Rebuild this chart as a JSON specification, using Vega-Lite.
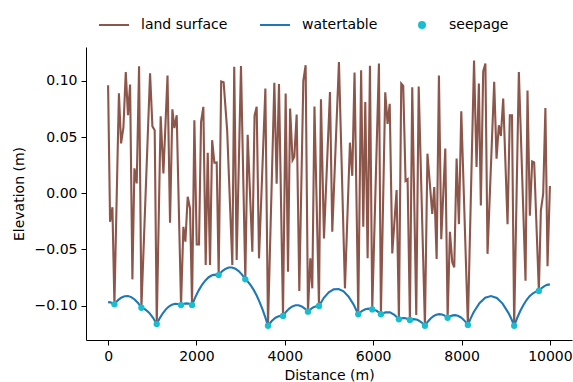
{
  "$schema": "https://vega.github.io/schema/vega-lite/v6.json",
  "width": 486,
  "height": 293,
  "autosize": {"type": "none"},
  "padding": {"left": 86, "top": 47, "right": 1, "bottom": 42},
  "background": "white",
  "config": {
    "view": {"stroke": null},
    "font": "DejaVu Sans",
    "axis": {
      "domainColor": "#000", "domainWidth": 1, "tickColor": "#000", "tickWidth": 1, "tickSize": 5,
      "labelColor": "#000", "labelFont": "DejaVu Sans", "labelFontSize": 14, "labelPadding": 4,
      "titleFont": "DejaVu Sans", "titleFontSize": 14, "titleFontWeight": "normal", "titleColor": "#000",
      "grid": false
    }
  },
  "datasets": {
    "land": [
      {"x": 0, "y": 0.0962}, {"x": 45, "y": -0.0254}, {"x": 98, "y": -0.0125}, {"x": 143, "y": -0.0989},
      {"x": 245, "y": 0.0890}, {"x": 294, "y": 0.0443}, {"x": 347, "y": 0.0585}, {"x": 400, "y": 0.1080},
      {"x": 450, "y": 0.0695}, {"x": 498, "y": 0.0968}, {"x": 550, "y": -0.0767}, {"x": 596, "y": 0.0222},
      {"x": 648, "y": 0.0087}, {"x": 701, "y": 0.1131}, {"x": 754, "y": -0.1020}, {"x": 950, "y": 0.1068},
      {"x": 1003, "y": 0.0595}, {"x": 1055, "y": 0.0561}, {"x": 1101, "y": -0.1165}, {"x": 1190, "y": 0.0685},
      {"x": 1252, "y": 0.0176}, {"x": 1345, "y": 0.1047}, {"x": 1402, "y": -0.0263}, {"x": 1455, "y": 0.0747},
      {"x": 1500, "y": 0.0580}, {"x": 1553, "y": 0.0695}, {"x": 1651, "y": -0.0996}, {"x": 1704, "y": -0.0299},
      {"x": 1749, "y": -0.0432}, {"x": 1802, "y": -0.0032}, {"x": 1855, "y": -0.0136}, {"x": 1900, "y": -0.0996},
      {"x": 1953, "y": 0.0650}, {"x": 2006, "y": -0.0456}, {"x": 2058, "y": -0.0456}, {"x": 2104, "y": 0.0636},
      {"x": 2156, "y": 0.0769}, {"x": 2209, "y": -0.0640}, {"x": 2255, "y": 0.0360}, {"x": 2307, "y": -0.0640},
      {"x": 2355, "y": 0.0472}, {"x": 2405, "y": 0.0272}, {"x": 2458, "y": 0.0275}, {"x": 2503, "y": -0.0729},
      {"x": 2560, "y": 0.0995}, {"x": 2615, "y": 0.0988}, {"x": 2695, "y": 0.0560}, {"x": 2812, "y": -0.0640},
      {"x": 2855, "y": 0.1125}, {"x": 2910, "y": -0.0595}, {"x": 3008, "y": 0.1132}, {"x": 3106, "y": -0.0767},
      {"x": 3159, "y": 0.0520}, {"x": 3265, "y": -0.0521}, {"x": 3315, "y": 0.0690}, {"x": 3363, "y": 0.0769},
      {"x": 3416, "y": -0.0580}, {"x": 3560, "y": 0.0932}, {"x": 3619, "y": -0.1180}, {"x": 3763, "y": 0.0984},
      {"x": 3815, "y": 0.0084}, {"x": 3868, "y": 0.0972}, {"x": 3959, "y": -0.1093}, {"x": 4019, "y": 0.0888},
      {"x": 4072, "y": -0.0699}, {"x": 4120, "y": 0.0754}, {"x": 4175, "y": 0.0294}, {"x": 4215, "y": 0.0324},
      {"x": 4268, "y": 0.0700}, {"x": 4328, "y": -0.0871}, {"x": 4419, "y": 0.1000}, {"x": 4471, "y": 0.1140},
      {"x": 4524, "y": -0.1055}, {"x": 4577, "y": -0.0580}, {"x": 4622, "y": -0.0847}, {"x": 4671, "y": 0.0772},
      {"x": 4773, "y": -0.1004}, {"x": 4818, "y": 0.0836}, {"x": 4886, "y": -0.0402}, {"x": 5022, "y": 0.0902},
      {"x": 5074, "y": -0.0343}, {"x": 5225, "y": 0.1169}, {"x": 5361, "y": -0.0847}, {"x": 5474, "y": 0.0450},
      {"x": 5527, "y": 0.0155}, {"x": 5578, "y": 0.1074}, {"x": 5662, "y": -0.1078}, {"x": 5727, "y": 0.1095},
      {"x": 5776, "y": -0.0299}, {"x": 5821, "y": 0.0813}, {"x": 5874, "y": -0.0580}, {"x": 5927, "y": 0.1134},
      {"x": 5979, "y": -0.1035}, {"x": 6130, "y": 0.1155}, {"x": 6175, "y": -0.1078}, {"x": 6273, "y": 0.0899},
      {"x": 6326, "y": 0.0617}, {"x": 6374, "y": 0.0796}, {"x": 6432, "y": -0.0536}, {"x": 6530, "y": 0.0028},
      {"x": 6582, "y": -0.1123}, {"x": 6635, "y": 0.0977}, {"x": 6680, "y": 0.0956}, {"x": 6733, "y": 0.0110},
      {"x": 6779, "y": 0.0125}, {"x": 6831, "y": -0.1129}, {"x": 6884, "y": 0.0944}, {"x": 6975, "y": -0.1085},
      {"x": 7030, "y": 0.0950}, {"x": 7171, "y": -0.1180}, {"x": 7228, "y": 0.0352}, {"x": 7337, "y": -0.0185},
      {"x": 7383, "y": 0.0055}, {"x": 7436, "y": -0.0585}, {"x": 7488, "y": 0.1048}, {"x": 7541, "y": -0.0410},
      {"x": 7632, "y": 0.0398}, {"x": 7685, "y": -0.1109}, {"x": 7737, "y": -0.0343}, {"x": 7790, "y": -0.0615},
      {"x": 7835, "y": -0.0660}, {"x": 7888, "y": 0.0308}, {"x": 7941, "y": -0.0275}, {"x": 7994, "y": 0.0730},
      {"x": 8143, "y": -0.1173}, {"x": 8283, "y": 0.1182}, {"x": 8339, "y": 0.0233}, {"x": 8392, "y": 0.0976},
      {"x": 8437, "y": -0.0110}, {"x": 8490, "y": 0.1085}, {"x": 8540, "y": 0.1155}, {"x": 8588, "y": -0.0540},
      {"x": 8739, "y": 0.0992}, {"x": 8792, "y": 0.0308}, {"x": 8844, "y": 0.0605}, {"x": 8890, "y": 0.0510},
      {"x": 8943, "y": 0.0842}, {"x": 9041, "y": -0.0275}, {"x": 9093, "y": 0.0693}, {"x": 9142, "y": 0.0693},
      {"x": 9191, "y": -0.1180}, {"x": 9297, "y": 0.1080}, {"x": 9448, "y": -0.0780}, {"x": 9493, "y": 0.0915},
      {"x": 9546, "y": -0.0200}, {"x": 9599, "y": 0.0284}, {"x": 9644, "y": 0.0275}, {"x": 9750, "y": -0.0871},
      {"x": 9795, "y": -0.0155}, {"x": 9848, "y": -0.0005}, {"x": 9898, "y": 0.0758}, {"x": 9946, "y": -0.0650},
      {"x": 10000, "y": 0.0064}
    ],
    "wt": [
      {"x": 0, "y": -0.0970}, {"x": 50, "y": -0.0972}, {"x": 100, "y": -0.0980}, {"x": 143, "y": -0.0989},
      {"x": 219, "y": -0.0954}, {"x": 296, "y": -0.0930}, {"x": 372, "y": -0.0918}, {"x": 449, "y": -0.0916},
      {"x": 525, "y": -0.0925}, {"x": 601, "y": -0.0946}, {"x": 678, "y": -0.0977}, {"x": 754, "y": -0.1020},
      {"x": 841, "y": -0.1035}, {"x": 928, "y": -0.1064}, {"x": 1014, "y": -0.1107}, {"x": 1101, "y": -0.1165},
      {"x": 1170, "y": -0.1112}, {"x": 1239, "y": -0.1069}, {"x": 1307, "y": -0.1034}, {"x": 1376, "y": -0.1009},
      {"x": 1445, "y": -0.0992}, {"x": 1514, "y": -0.0984}, {"x": 1582, "y": -0.0986}, {"x": 1651, "y": -0.0996},
      {"x": 1713, "y": -0.0985}, {"x": 1776, "y": -0.0981}, {"x": 1838, "y": -0.0985}, {"x": 1900, "y": -0.0996},
      {"x": 1975, "y": -0.0925}, {"x": 2051, "y": -0.0865}, {"x": 2126, "y": -0.0815}, {"x": 2202, "y": -0.0776},
      {"x": 2277, "y": -0.0748}, {"x": 2352, "y": -0.0731}, {"x": 2428, "y": -0.0725}, {"x": 2503, "y": -0.0729},
      {"x": 2578, "y": -0.0696}, {"x": 2654, "y": -0.0674}, {"x": 2729, "y": -0.0662}, {"x": 2805, "y": -0.0662},
      {"x": 2880, "y": -0.0672}, {"x": 2955, "y": -0.0693}, {"x": 3031, "y": -0.0725}, {"x": 3106, "y": -0.0767},
      {"x": 3170, "y": -0.0791}, {"x": 3234, "y": -0.0823}, {"x": 3298, "y": -0.0863}, {"x": 3363, "y": -0.0911},
      {"x": 3427, "y": -0.0967}, {"x": 3491, "y": -0.1030}, {"x": 3555, "y": -0.1101}, {"x": 3619, "y": -0.1180},
      {"x": 3704, "y": -0.1138}, {"x": 3789, "y": -0.1109}, {"x": 3874, "y": -0.1094}, {"x": 3959, "y": -0.1093},
      {"x": 4030, "y": -0.1055}, {"x": 4100, "y": -0.1027}, {"x": 4171, "y": -0.1008}, {"x": 4242, "y": -0.0998},
      {"x": 4312, "y": -0.0998}, {"x": 4383, "y": -0.1008}, {"x": 4453, "y": -0.1027}, {"x": 4524, "y": -0.1055},
      {"x": 4586, "y": -0.1031}, {"x": 4649, "y": -0.1015}, {"x": 4711, "y": -0.1006}, {"x": 4773, "y": -0.1004},
      {"x": 4884, "y": -0.0931}, {"x": 4995, "y": -0.0882}, {"x": 5106, "y": -0.0856}, {"x": 5218, "y": -0.0853},
      {"x": 5329, "y": -0.0874}, {"x": 5440, "y": -0.0919}, {"x": 5551, "y": -0.0987}, {"x": 5662, "y": -0.1078},
      {"x": 5741, "y": -0.1049}, {"x": 5821, "y": -0.1033}, {"x": 5900, "y": -0.1028}, {"x": 5979, "y": -0.1035},
      {"x": 6028, "y": -0.1039}, {"x": 6077, "y": -0.1047}, {"x": 6126, "y": -0.1060}, {"x": 6175, "y": -0.1078},
      {"x": 6277, "y": -0.1060}, {"x": 6379, "y": -0.1061}, {"x": 6480, "y": -0.1082}, {"x": 6582, "y": -0.1123},
      {"x": 6644, "y": -0.1114}, {"x": 6707, "y": -0.1111}, {"x": 6769, "y": -0.1117}, {"x": 6831, "y": -0.1129},
      {"x": 6916, "y": -0.1121}, {"x": 7001, "y": -0.1127}, {"x": 7086, "y": -0.1147}, {"x": 7171, "y": -0.1180},
      {"x": 7235, "y": -0.1144}, {"x": 7300, "y": -0.1115}, {"x": 7364, "y": -0.1095}, {"x": 7428, "y": -0.1082},
      {"x": 7492, "y": -0.1077}, {"x": 7557, "y": -0.1080}, {"x": 7621, "y": -0.1090}, {"x": 7685, "y": -0.1109},
      {"x": 7742, "y": -0.1095}, {"x": 7800, "y": -0.1088}, {"x": 7857, "y": -0.1086}, {"x": 7914, "y": -0.1091},
      {"x": 7971, "y": -0.1102}, {"x": 8029, "y": -0.1120}, {"x": 8086, "y": -0.1143}, {"x": 8143, "y": -0.1173},
      {"x": 8209, "y": -0.1112}, {"x": 8274, "y": -0.1060}, {"x": 8405, "y": -0.0979}, {"x": 8536, "y": -0.0931},
      {"x": 8667, "y": -0.0916}, {"x": 8798, "y": -0.0933}, {"x": 8929, "y": -0.0983}, {"x": 9060, "y": -0.1065},
      {"x": 9126, "y": -0.1118}, {"x": 9191, "y": -0.1180}, {"x": 9261, "y": -0.1109}, {"x": 9331, "y": -0.1047},
      {"x": 9401, "y": -0.0995}, {"x": 9471, "y": -0.0951}, {"x": 9540, "y": -0.0917}, {"x": 9610, "y": -0.0893},
      {"x": 9680, "y": -0.0877}, {"x": 9750, "y": -0.0871}, {"x": 9813, "y": -0.0845}, {"x": 9875, "y": -0.0827},
      {"x": 9938, "y": -0.0816}, {"x": 10000, "y": -0.0812}
    ],
    "seep": [
      {"x": 143, "y": -0.0989}, {"x": 754, "y": -0.1020}, {"x": 1101, "y": -0.1165}, {"x": 1651, "y": -0.0996},
      {"x": 1900, "y": -0.0996}, {"x": 2503, "y": -0.0729}, {"x": 3106, "y": -0.0767}, {"x": 3619, "y": -0.1180},
      {"x": 3959, "y": -0.1093}, {"x": 4524, "y": -0.1055}, {"x": 4773, "y": -0.1004}, {"x": 5662, "y": -0.1078},
      {"x": 5979, "y": -0.1035}, {"x": 6175, "y": -0.1078}, {"x": 6582, "y": -0.1123}, {"x": 6831, "y": -0.1129},
      {"x": 7171, "y": -0.1180}, {"x": 7685, "y": -0.1109}, {"x": 8143, "y": -0.1173}, {"x": 9191, "y": -0.1180},
      {"x": 9750, "y": -0.0871}
    ]
  },
  "encoding": {
    "x": {"field": "x", "type": "quantitative",
      "scale": {"domain": [-500, 10500], "nice": false, "zero": false},
      "axis": {"values": [0, 2000, 4000, 6000, 8000, 10000], "format": "d", "title": "Distance (m)", "titlePadding": 5}},
    "y": {"field": "y", "type": "quantitative",
      "scale": {"domain": [-0.1307, 0.1302], "nice": false, "zero": false},
      "axis": {"values": [-0.1, -0.05, 0, 0.05, 0.1], "format": ".2f", "title": "Elevation (m)", "titlePadding": 8}}
  },
  "layer": [
    {
      "data": {"name": "land"},
      "mark": {"type": "line", "strokeWidth": 2.1},
      "encoding": {
        "color": {"datum": "land surface", "type": "nominal",
          "scale": {"domain": ["land surface", "watertable", "seepage"], "range": ["#8c564b", "#1f77b4", "#17becf"]},
          "legend": {
            "orient": "none", "legendX": 12, "legendY": -38, "direction": "horizontal", "title": null,
            "symbolType": "stroke", "symbolSize": 900, "symbolStrokeWidth": 2,
            "labelFont": "DejaVu Sans", "labelFontSize": 14, "labelColor": "#000", "labelOffset": 11,
            "columnPadding": 28, "padding": 0,
            "encode": {"symbols": {"update": {
              "shape": {"signal": "datum.value === 'seepage' ? 'circle' : 'stroke'"},
              "size": {"signal": "datum.value === 'seepage' ? 36 : 900"},
              "stroke": {"signal": "datum.value === 'seepage' ? 'transparent' : (datum.value === 'land surface' ? '#8c564b' : '#1f77b4')"},
              "fill": {"signal": "datum.value === 'seepage' ? '#17becf' : 'transparent'"},
              "strokeWidth": {"value": 2},
              "opacity": {"value": 1}
            }}}
          }
        }
      }
    },
    {
      "data": {"name": "wt"},
      "mark": {"type": "line", "strokeWidth": 2.1},
      "encoding": {"color": {"datum": "watertable", "type": "nominal"}}
    },
    {
      "data": {"name": "seep"},
      "mark": {"type": "point", "filled": true, "size": 40, "opacity": 1},
      "encoding": {"color": {"datum": "seepage", "type": "nominal"}}
    }
  ]
}
